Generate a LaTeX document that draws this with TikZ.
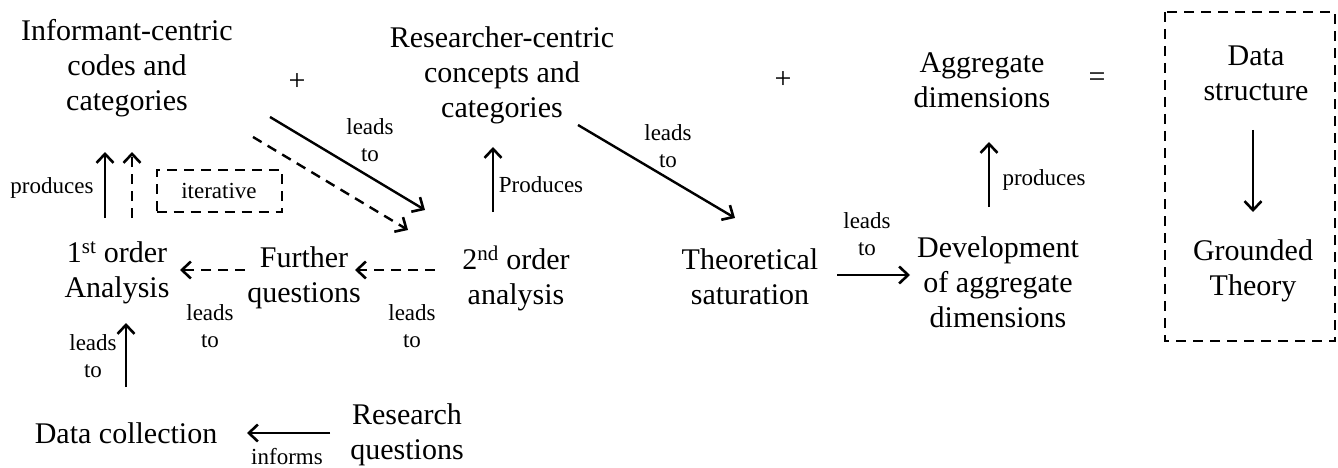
\documentclass[tikz,border=0pt]{standalone}
\usepackage{fontspec}
\setmainfont{Liberation Serif}
\usetikzlibrary{arrows.meta,calc}
\begin{document}
\begin{tikzpicture}[x=1pt,y=-1pt,
  big/.style={align=center,inner sep=0pt,font=\fontsize{30}{35}\selectfont},
  lbl/.style={align=center,inner sep=0pt,font=\fontsize{23}{27}\selectfont},
  conn/.style={line width=2.4pt,-{Straight Barb[length=9pt,width=17pt,line width=2.6pt]}},
  dashconn/.style={conn,dash pattern=on 10pt off 7pt},
  dbox/.style={draw,line width=2pt,dash pattern=on 10pt off 7pt}
]
\fill[white] (0,0) rectangle (1338,468);
\useasboundingbox (0,0) rectangle (1338,468);

% main concepts
\node[big] (inf)   at (127,68)  {Informant-centric\\codes and\\categories};
\node[big] (res)   at (502,75)  {Researcher-centric\\concepts and\\categories};
\node[big] (agg)   at (982,80)  {Aggregate\\dimensions};
\node[big] (ds)    at (1256,73) {Data\\structure};
\node[big] (gt)    at (1253,271){Grounded\\Theory};
\node[big] (first) at (117,273) {1\textsuperscript{st} order\\Analysis};
\node[big] (fq)    at (304,278) {Further\\questions};
\node[big] (sec)   at (516,278) {2\textsuperscript{nd} order\\analysis};
\node[big] (theo)  at (750,277) {Theoretical\\saturation};
\node[big] (dev)   at (998,282) {Development\\of aggregate\\dimensions};
\node[big] (dc)    at (126,433) {Data collection};
\node[big] (rq)    at (407,435) {Research\\questions};

% operators between the outcomes
\node[big] (plusA) at (297,82)  {+};
\node[big] (plusB) at (783,80)  {+};
\node[big] (eqs)   at (1097,80) {=};

% framed groups
\node[dbox,lbl,minimum width=125pt,minimum height=42pt] (iter) at (219,191) {iterative};
\draw[dbox] (1165,12) rectangle (1335,341);

% connectors
\draw[conn] ($(rq)+(-77,-2)$) -- ($(dc)+(121,0)$);
\draw[conn] ($(dc)+(0,-46)$) -- ($(first)+(9,50)$);
\draw[conn] ($(first)+(-12,-55)$) -- ($(inf)+(-22,84)$);
\draw[dashconn] ($(first)+(15,-55)$) -- ($(inf)+(5,84)$);
\draw[conn] ($(inf)+(143,49)$) -- ($(sec)+(-91,-68)$);
\draw[dashconn] ($(inf)+(126,69)$) -- ($(sec)+(-108,-48)$);
\draw[dashconn] ($(sec)+(-81,-8)$) -- ($(fq)+(51,-8)$);
\draw[dashconn] ($(fq)+(-59,-8)$) -- ($(first)+(63,-3)$);
\draw[conn] ($(sec)+(-23,-66)$) -- ($(res)+(-9,72)$);
\draw[conn] ($(res)+(76,50)$) -- ($(theo)+(-15,-59)$);
\draw[conn] ($(theo)+(87,-2)$) -- ($(dev)+(-88,-7)$);
\draw[conn] ($(dev)+(-9,-75)$) -- ($(agg)+(7,62)$);
\draw[conn] ($(ds)+(-3,57)$) -- ($(gt)+(0,-59)$);

% connector labels
\node[lbl] (l1)  at (287,457)  {informs};
\node[lbl] (l2)  at (93,356)   {leads\\to};
\node[lbl] (l3)  at (52,188)   {produces};
\node[lbl] (l4)  at (370,140)  {leads\\to};
\node[lbl] (l5)  at (210,326)  {leads\\to};
\node[lbl] (l6)  at (412,326)  {leads\\to};
\node[lbl] (l7)  at (541,185)  {Produces};
\node[lbl] (l8)  at (668,146)  {leads\\to};
\node[lbl] (l9)  at (867,234)  {leads\\to};
\node[lbl] (l10) at (1044,180) {produces};
\end{tikzpicture}
\end{document}
